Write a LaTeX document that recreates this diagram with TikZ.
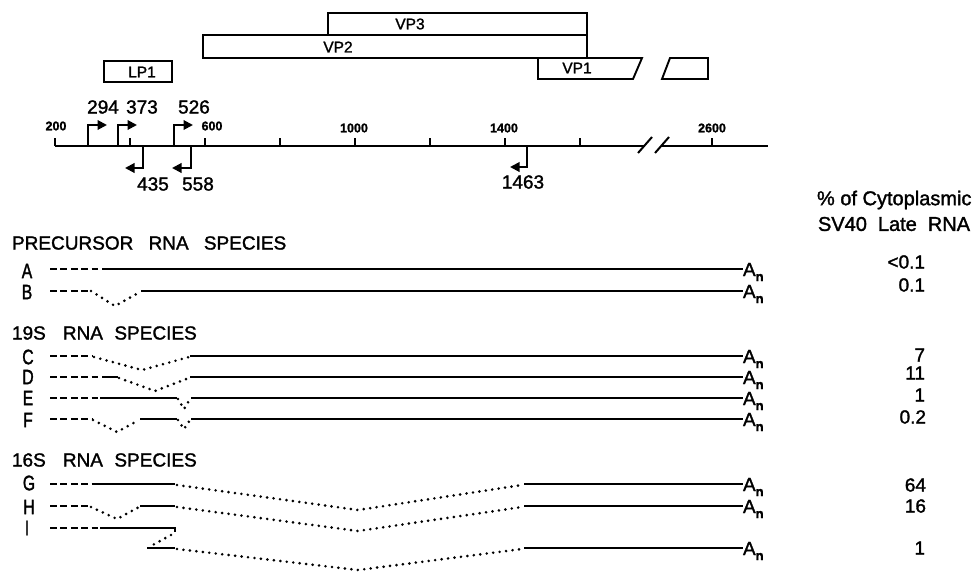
\documentclass[tikz,border=0pt]{standalone}
\usepackage{fontspec}
\setmainfont[FakeBold=1.5]{Liberation Sans}
\newfontfamily\tallfont[FakeStretch=0.75,FakeBold=1.5]{Liberation Sans}
\usetikzlibrary{arrows.meta}
\begin{document}
\begin{tikzpicture}[x=1pt,y=-1pt,
 every node/.style={inner sep=0pt,outer sep=0pt},
 ln/.style={line width=2pt},
 boxl/.style={line width=1.9pt, line join=miter},
 arr/.style={line width=2pt, -{Triangle[length=9.5pt,width=9.5pt]}},
 rna/.style={line width=2.2pt},
 dsh/.style={line width=2.1pt, dash pattern=on 6.7pt off 3.7pt},
 dot/.style={line width=2.9pt, line cap=round, dash pattern=on 0pt off 6.5pt},
 lbl/.style={font=\fontsize{15.5}{15.5}\selectfont},
 tk/.style={font=\bfseries\fontsize{12.5}{12.5}\selectfont},
 num/.style={font=\fontsize{19}{19}\selectfont},
 head/.style={anchor=west, font=\fontsize{19}{19}\selectfont},
 letr/.style={font=\tallfont\fontsize{21}{21}\selectfont},
 an/.style={anchor=base west, font=\fontsize{19}{19}\selectfont},
 pct/.style={anchor=east, font=\fontsize{19}{19}\selectfont},
 hdr/.style={anchor=west, font=\fontsize{20}{20}\selectfont},
]
\useasboundingbox (0,0) rectangle (976,574);
\newcommand{\Anlab}{A\raisebox{-5pt}{\bfseries\fontsize{13}{13}\selectfont n}}

% protein boxes
\draw[boxl] (328,13) rectangle (587,35);
\draw[boxl] (203,35) rectangle (587,58);
\draw[boxl] (538,58) -- (642,58) -- (633,79) -- (538,79) -- cycle;
\draw[boxl] (670,58) -- (708,58) -- (708,79) -- (662,79) -- cycle;
\draw[boxl] (104,61) rectangle (172,82);
\node[lbl] (vp3) at (410,24) {VP3};
\node[lbl] (vp2) at (338,47) {VP2};
\node[lbl] (vp1) at (577,68) {VP1};
\node[lbl] (lp1) at (142,72) {LP1};

% axis
\draw[ln] (55,146) -- (645,146);
\draw[ln] (662,146) -- (768,146);
\draw[ln] (638,153) -- (652,137);
\draw[ln] (655,153) -- (669,137);
\foreach \x in {55,130,205,280,355,430,505,580,712} \draw[ln] (\x,146) -- (\x,138);
\node[tk] (t200) at (56,126) {200};
\node[tk] (t600) at (212,126) {600};
\node[tk] (t1000) at (354,128) {1000};
\node[tk] (t1400) at (504,128) {1400};
\node[tk] (t2600) at (712,128) {2600};

% start sites
\draw[arr] (88,146) |- (107,125);
\draw[arr] (118,146) |- (137,125);
\draw[arr] (174,146) |- (193,125);
\draw[arr] (143,146) |- (125,168);
\draw[arr] (191,146) |- (172,168);
\draw[arr] (527,146) |- (510,167);
\node[num] (n294) at (103,107) {294};
\node[num] (n373) at (142,107) {373};
\node[num] (n526) at (194,107) {526};
\node[num] (n435) at (153,184) {435};
\node[num] (n558) at (198,184) {558};
\node[num] (n1463) at (523,182) {1463};

% headers
\node[hdr] (h1) at (817,200) {\% of Cytoplasmic};
\node[hdr] (h2) at (818,224) {SV40\hspace{0.55em}Late\hspace{0.55em}RNA};
\node[head] (pre) at (12,243) {PRECURSOR\hspace{0.8em}RNA\hspace{0.8em}SPECIES};
\node[head] (s19) at (12,333) {19S\hspace{0.9em}RNA\hspace{0.6em}SPECIES};
\node[head] (s16) at (12,460) {16S\hspace{0.9em}RNA\hspace{0.6em}SPECIES};

% row letters
\node[letr] (lA) at (27,271) {A};
\node[letr] (lB) at (27,292) {B};
\node[letr] (lC) at (28,357) {C};
\node[letr] (lD) at (28,377) {D};
\node[letr] (lE) at (28,398) {E};
\node[letr] (lF) at (28,420) {F};
\node[letr] (lG) at (29,483) {G};
\node[letr] (lH) at (29,507) {H};
\node[letr] (lI) at (27,528) {I};

% RNA rows
% A
\draw[dsh] (50,269) -- (103,269);
\draw[rna] (103,269) -- (743,269);
% B
\draw[dsh] (50,291) -- (90,291);
\draw[dot] (91,291) -- (115,306) -- (140,292);
\draw[rna] (141,291) -- (743,291);
% C
\draw[dsh] (50,356) -- (93,356);
\draw[dot] (94,357) -- (142,370) -- (189,357);
\draw[rna] (190,356) -- (743,356);
% D
\draw[dsh] (50,377) -- (103,377);
\draw[rna] (103,377) -- (118,377);
\draw[dot] (119,378) -- (155,391) -- (189,378);
\draw[rna] (190,377) -- (743,377);
% E
\draw[dsh] (50,398) -- (100,398);
\draw[rna] (100,398) -- (177,398);
\draw[dot] (178,399) -- (184,409) -- (190,399);
\draw[rna] (191,398) -- (743,398);
% F
\draw[dsh] (50,419) -- (92,419);
\draw[dot] (93,420) -- (117,432) -- (139,420);
\draw[rna] (140,419) -- (177,419);
\draw[dot] (178,420) -- (184,429) -- (190,420);
\draw[rna] (191,419) -- (743,419);
% G
\draw[dsh] (50,484) -- (96,484);
\draw[rna] (96,484) -- (175,484);
\draw[dot] (177,485) -- (358,510) -- (522,485);
\draw[rna] (524,484) -- (743,484);
% H
\draw[dsh] (50,506) -- (90,506);
\draw[dot] (91,507) -- (117,519) -- (139,507);
\draw[rna] (140,506) -- (175,506);
\draw[dot] (177,507) -- (358,531) -- (522,507);
\draw[rna] (524,506) -- (743,506);
% I
\draw[dsh] (50,528) -- (100,528);
\draw[rna] (100,528) -- (175,528) -- (175,532);
\draw[dot] (171,535) -- (149,547);
\draw[rna] (147,548) -- (175,548);
\draw[dot] (177,549) -- (358,570) -- (522,549);
\draw[rna] (524,548) -- (743,548);

% A_n labels
\node[an] (anA) at (743,276) {\Anlab};
\node[an] (anB) at (743,298) {\Anlab};
\node[an] (anC) at (743,363) {\Anlab};
\node[an] (anD) at (743,384) {\Anlab};
\node[an] (anE) at (743,405) {\Anlab};
\node[an] (anF) at (743,426) {\Anlab};
\node[an] (anG) at (743,491) {\Anlab};
\node[an] (anH) at (743,513) {\Anlab};
\node[an] (anI) at (743,555) {\Anlab};

% percentages
\node[pct] (pA) at (925,262) {<0.1};
\node[pct] (pB) at (925,285) {0.1};
\node[pct] (pC) at (925,355) {7};
\node[pct] (pD) at (925,373) {11};
\node[pct] (pE) at (925,395) {1};
\node[pct] (pF) at (926,417) {0.2};
\node[pct] (pG) at (926,485) {64};
\node[pct] (pH) at (926,506) {16};
\node[pct] (pI) at (925,548) {1};
\end{tikzpicture}
\end{document}
